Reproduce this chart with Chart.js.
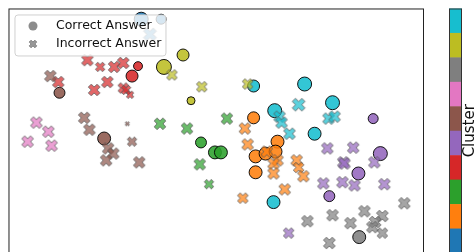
<!DOCTYPE html>
<html>
<head>
<meta charset="utf-8">
<script src="https://cdn.jsdelivr.net/npm/chart.js@4"></script>
<style>
  html, body { margin: 0; padding: 0; background: #fff; overflow: hidden; width: 476px; height: 252px; }
  canvas { display: block; }
</style>
</head>
<body>
<canvas id="scatter" width="476" height="262"></canvas>
<script>
// tab10
const palette = ["#1f77b4", "#ff7f0e", "#2ca02c", "#d62728", "#9467bd",
  "#8c564b", "#e377c2", "#7f7f7f", "#bcbd22", "#17becf"];

// Correct answers (circles)
const corrX = [33.3, 38.3, 61.5, 74.3, 66.8, 81.3, 76.8, 66.5, 43.8, 39, 45.8, 32.5, 31, 12.8, 24,
  48.3, 51.8, 53.3, 61.5, 67.5, 62, 64.5, 67, 62, 91.5, 93.3, 87.8, 80.5, 88];
const corrY = [58.8, 58.8, 42, 42.5, 35.8, 37.8, 30, 12.8, 49.8, 46.8, 38.3, 47, 44.5, 40.3, 28.8,
  27.8, 25.3, 25.3, 34, 28, 24.3, 25, 25.5, 20.3, 33.8, 25, 20, 14.3, 4];
const corrCluster = [0, 0, 9, 9, 9, 9, 9, 9, 8, 8, 8, 3, 3, 5, 5, 2, 2, 2, 1, 1, 1, 1, 1, 1, 4, 4, 4, 4, 7];
const corrWeight = [49, 25, 36, 49, 49, 49, 42, 42, 36, 56, 16, 20, 36, 30, 42, 30, 42, 42,
  36, 42, 42, 42, 42, 42, 25, 49, 42, 30, 42];

// Incorrect answers (crosses)
const incX = [35.5,
  19.8, 23, 26.5, 28.8, 12.5, 24.8, 21.5, 28.8, 29.5, 30.5,
  10.5, 19, 20.3, 29.8, 31, 25, 26.3, 24.5, 32.8,
  7, 10, 4.8, 10.8,
  41, 48.5, 60,
  38, 44.8, 54.8, 48, 50.3,
  68, 68.5, 72.8, 80.3, 81.8, 70.5,
  59.3, 60, 64.8, 67.5, 66.5, 66.5, 72.3, 72.8, 74, 69.3, 58.8,
  80, 86.5, 91.8, 84, 84.3, 79, 83.8, 86.8, 94.3, 70.3,
  99.3, 75, 81.3, 89.3, 85.8, 93.8, 92, 91.3, 93.8, 80.5];
const incY = [55,
  48.5, 46.8, 46.8, 47.8, 43, 43, 41, 41.5, 41, 39.8,
  44.5, 34, 31, 32.5, 28, 26.3, 25, 23.3, 22.8,
  32.8, 30.5, 28, 27,
  44.8, 41.8, 42.5,
  32.5, 31.3, 33.8, 22.3, 17.3,
  34.3, 32.8, 37.3, 33.8, 34.3, 30,
  31.3, 27.3, 25.5, 23.3, 22.5, 20, 23.3, 21.5, 19.3, 16, 13.8,
  26.3, 26.5, 22.8, 22.8, 22.5, 17.5, 17.8, 17, 17.3, 5,
  12.5, 8, 9.5, 10.5, 7.5, 9.3, 7.8, 6.5, 5, 2.5];
const incCluster = [0,
  3, 3, 3, 3, 3, 3, 3, 3, 3, 3,
  5, 5, 5, 5, 5, 5, 5, 5, 5,
  6, 6, 6, 6,
  8, 8, 8,
  2, 2, 2, 2, 2,
  9, 9, 9, 9, 9, 9,
  1, 1, 1, 1, 1, 1, 1, 1, 1, 1, 1,
  4, 4, 4, 4, 4, 4, 4, 4, 4, 4,
  7, 7, 7, 7, 7, 7, 7, 7, 7, 7];
const incWeight = [36,
  30, 20, 30, 30, 30, 30, 30, 25, 20, 12,
  30, 30, 30, 4, 20, 30, 30, 30, 30,
  30, 30, 30, 30,
  25, 25, 25,
  30, 30, 30, 30, 20,
  30, 30, 36, 30, 30, 30,
  30, 30, 30, 30, 30, 30, 30, 25, 30, 30, 25,
  30, 30, 30, 30, 30, 30, 30, 30, 30, 25,
  30, 30, 30, 30, 30, 30, 30, 30, 25, 30];

const legendLabels = ["Correct Answer", "Incorrect Answer"];
const colorbarTitle = "Cluster";

function rgba(hex, a) {
  const n = parseInt(hex.slice(1), 16);
  return `rgba(${(n >> 16) & 255}, ${(n >> 8) & 255}, ${n & 255}, ${a})`;
}

// filled "X" marker like matplotlib's
function drawX(ctx, cx, cy, half, fill, stroke) {
  const L = half / 0.943;
  const w = L / 3;
  const pts = [[-w, -L], [w, -L], [w, -w], [L, -w], [L, w], [w, w], [w, L], [-w, L], [-w, w], [-L, w], [-L, -w], [-w, -w]];
  ctx.save();
  ctx.translate(cx, cy);
  ctx.rotate(Math.PI / 4);
  ctx.beginPath();
  pts.forEach((p, i) => (i ? ctx.lineTo(p[0], p[1]) : ctx.moveTo(p[0], p[1])));
  ctx.closePath();
  ctx.fillStyle = fill;
  ctx.fill();
  ctx.lineWidth = 0.9;
  ctx.strokeStyle = stroke;
  ctx.stroke();
  ctx.restore();
}

const xCache = {};
function xImage(cluster, weight) {
  const key = cluster + "_" + weight;
  if (xCache[key]) return xCache[key];
  const half = Math.sqrt(weight) * 1.06;
  const c = document.createElement("canvas");
  const s = Math.ceil(half * 2 + 4);
  c.width = s;
  c.height = s;
  drawX(c.getContext("2d"), s / 2, s / 2, half, rgba(palette[cluster], 0.7), "rgba(90,90,90,0.85)");
  xCache[key] = c;
  return c;
}

const overlay = {
  id: "overlay",
  afterDatasetsDraw(chart) {
    const ctx = chart.ctx;
    const a = chart.chartArea;
    ctx.save();
    // frame
    ctx.strokeStyle = "#222";
    ctx.lineWidth = 1;
    ctx.strokeRect(a.left + 0.5, a.top + 0.5, a.right - a.left, a.bottom - a.top);

    // legend
    const lx = a.left + 6.5, ly = a.top + 6.5, lw = 151, lh = 41, r = 3;
    ctx.beginPath();
    ctx.moveTo(lx + r, ly);
    ctx.arcTo(lx + lw, ly, lx + lw, ly + lh, r);
    ctx.arcTo(lx + lw, ly + lh, lx, ly + lh, r);
    ctx.arcTo(lx, ly + lh, lx, ly, r);
    ctx.arcTo(lx, ly, lx + lw, ly, r);
    ctx.closePath();
    ctx.fillStyle = "rgba(255,255,255,0.8)";
    ctx.fill();
    ctx.strokeStyle = "#d0d0d0";
    ctx.stroke();

    ctx.beginPath();
    ctx.arc(lx + 18, ly + 11, 4.5, 0, Math.PI * 2);
    ctx.fillStyle = "rgba(128,128,128,0.9)";
    ctx.fill();
    drawX(ctx, lx + 18, ly + 29, 3.8, "rgba(128,128,128,0.8)", "rgba(110,110,110,0.8)");

    ctx.fillStyle = "#111";
    ctx.font = "12.5px 'DejaVu Sans'";
    ctx.textBaseline = "middle";
    ctx.fillText(legendLabels[0], lx + 41, ly + 11);
    ctx.fillText(legendLabels[1], lx + 41, ly + 29);

    // colorbar
    const cbL = 449, cbW = 13, cbT = a.top, cbH = a.bottom - a.top;
    const seg = cbH / palette.length;
    for (let i = 0; i < palette.length; i++) {
      ctx.fillStyle = palette[palette.length - 1 - i];
      ctx.fillRect(cbL, cbT + i * seg, cbW, seg + 0.5);
    }
    ctx.strokeStyle = "#333";
    ctx.lineWidth = 1;
    ctx.strokeRect(cbL + 0.5, cbT + 0.5, cbW - 1, cbH);

    ctx.translate(474, (a.top + a.bottom) / 2);
    ctx.rotate(-Math.PI / 2);
    ctx.font = "15px 'DejaVu Sans'";
    ctx.fillStyle = "#111";
    ctx.textAlign = "center";
    ctx.textBaseline = "alphabetic";
    ctx.fillText(colorbarTitle, 0, 0);
    ctx.restore();
  }
};

const corrData = corrX.map((x, i) => ({ x, y: corrY[i] }));
const incData = incX.map((x, i) => ({ x, y: incY[i] }));

new Chart(document.getElementById("scatter").getContext("2d"), {
  type: "scatter",
  data: {
    datasets: [
      {
        label: legendLabels[1],
        data: incData,
        order: 0,
        pointStyle: (c) => xImage(incCluster[c.dataIndex], incWeight[c.dataIndex]),
        pointRadius: incWeight.map((w) => Math.sqrt(w)),
      },
      {
        label: legendLabels[0],
        data: corrData,
        order: 1,
        pointStyle: "circle",
        pointRadius: corrWeight.map((w) => Math.sqrt(w)),
        pointBackgroundColor: corrCluster.map((c) => rgba(palette[c], 0.88)),
        pointBorderColor: "rgba(0,0,0,0.9)",
        pointBorderWidth: 1,
      },
    ],
  },
  options: {
    responsive: false,
    animation: false,
    events: [],
    layout: { padding: { left: 7, top: 7, right: 53, bottom: 9 } },
    plugins: { legend: { display: false }, tooltip: { enabled: false } },
    scales: {
      x: { type: "linear", min: 0, max: 104, display: false },
      y: { type: "linear", min: 0, max: 61.5, display: false },
    },
  },
  plugins: [overlay],
});
</script>
</body>
</html>
